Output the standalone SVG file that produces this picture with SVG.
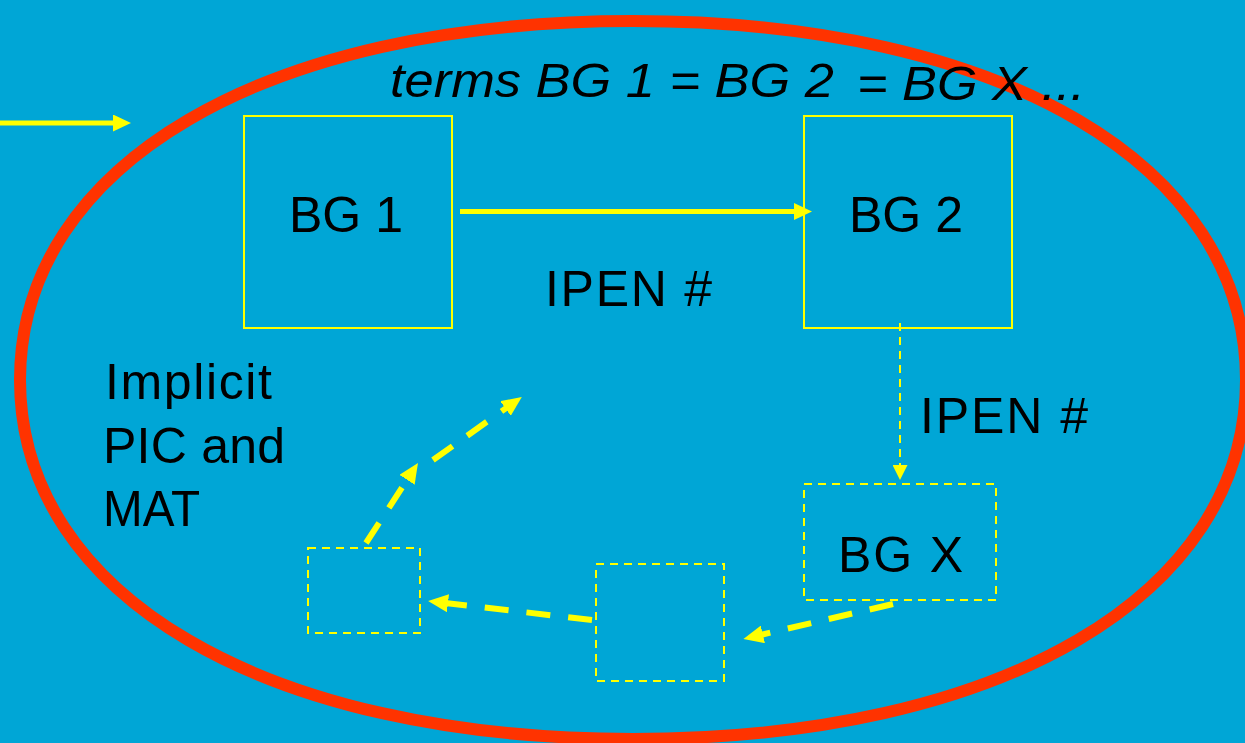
<svg xmlns="http://www.w3.org/2000/svg" width="1245" height="743" viewBox="0 0 1245 743">
  <defs>
    <style>
      .bg { fill: #00A6D6; }
      .ring { fill: none; stroke: #FF3300; stroke-width: 12; }
      .box { fill: none; stroke: #FFFF00; stroke-width: 2; }
      .dbox { fill: none; stroke: #FFFF00; stroke-width: 2; stroke-dasharray: 8 6; }
      .lbl { font-family: "Liberation Sans", Arial, sans-serif; font-size: 50px; fill: #000; }
      .title { font-family: "Liberation Sans", Arial, sans-serif; font-size: 49px; font-style: italic; fill: #000; }
      .solid { fill: none; stroke: #FFFF00; stroke-width: 5; }
      .thin { fill: none; stroke: #FFFF00; stroke-width: 2; stroke-dasharray: 8 6; }
      .thick { fill: none; stroke: #FFFF00; stroke-width: 6; stroke-dasharray: 24 18; }
    </style>
    <marker id="headSolid" markerUnits="userSpaceOnUse" markerWidth="18" markerHeight="17" refX="4" refY="8.5" orient="auto">
      <path d="M0,0 L18,8.5 L0,17 z" fill="#FFFF00"/>
    </marker>
    <marker id="headThin" markerUnits="userSpaceOnUse" markerWidth="15" markerHeight="15" refX="3" refY="7.5" orient="auto">
      <path d="M0,0 L15,7.5 L0,15 z" fill="#FFFF00"/>
    </marker>
    <marker id="headThick" markerUnits="userSpaceOnUse" markerWidth="20" markerHeight="18" refX="5" refY="9" orient="auto">
      <path d="M0,0 L20,9 L0,18 z" fill="#FFFF00"/>
    </marker>
  </defs>

  <rect class="bg" x="0" y="0" width="1245" height="743"/>

  <!-- boundary ring, a slightly full oval -->
  <path class="ring" d="M20,380 C20,164.6 265.2,21 633,21 C1000.8,21 1246,164.6 1246,380 C1246,595.4 1000.8,739 633,739 C265.2,739 20,595.4 20,380 Z"/>

  <!-- heading -->
  <text class="title" x="390" y="97" textLength="444" lengthAdjust="spacingAndGlyphs">terms BG 1 = BG 2</text>
  <text class="title" x="857" y="100" textLength="228" lengthAdjust="spacingAndGlyphs">= BG X ...</text>

  <g id="bg1">
    <rect class="box" x="244" y="116" width="208" height="212"/>
    <text class="lbl" x="289" y="232">BG 1</text>
  </g>

  <g id="bg2">
    <rect class="box" x="804" y="116" width="208" height="212"/>
    <text class="lbl" x="849" y="232">BG 2</text>
  </g>

  <g id="bgx">
    <rect class="dbox" x="804" y="484" width="192" height="116"/>
    <text class="lbl" x="838" y="572" textLength="125" lengthAdjust="spacing">BG X</text>
  </g>

  <g id="next-a">
    <rect class="dbox" x="596" y="564" width="128" height="117"/>
  </g>

  <g id="next-b">
    <rect class="dbox" x="308" y="548" width="112" height="85"/>
  </g>

  <g id="ipen-1">
    <text class="lbl" x="545" y="306" textLength="167" lengthAdjust="spacing">IPEN #</text>
  </g>

  <g id="ipen-2">
    <text class="lbl" x="920" y="433" textLength="168" lengthAdjust="spacing">IPEN #</text>
  </g>

  <g id="implicit">
    <text class="lbl" x="105" y="399" textLength="167" lengthAdjust="spacing">Implicit</text>
    <text class="lbl" x="103" y="463" textLength="182" lengthAdjust="spacing">PIC and</text>
    <text class="lbl" x="103" y="526" textLength="97" lengthAdjust="spacingAndGlyphs">MAT</text>
  </g>

  <g id="connectors">
    <line class="solid" x1="0" y1="123" x2="117" y2="123" marker-end="url(#headSolid)"/>
    <line class="solid" x1="460" y1="211.5" x2="798" y2="211.5" marker-end="url(#headSolid)"/>
    <line class="thin" x1="900" y1="323" x2="900" y2="468" marker-end="url(#headThin)"/>
    <line class="thick" x1="893" y1="604" x2="758" y2="635.5" marker-end="url(#headThick)"/>
    <line class="thick" x1="592" y1="620" x2="443" y2="602.7" marker-end="url(#headThick)"/>
    <line class="thick" x1="366" y1="543" x2="409.8" y2="475.6" marker-end="url(#headThick)"/>
    <line class="thick" x1="433" y1="460" x2="509.6" y2="405.6" marker-end="url(#headThick)"/>
  </g>
</svg>
